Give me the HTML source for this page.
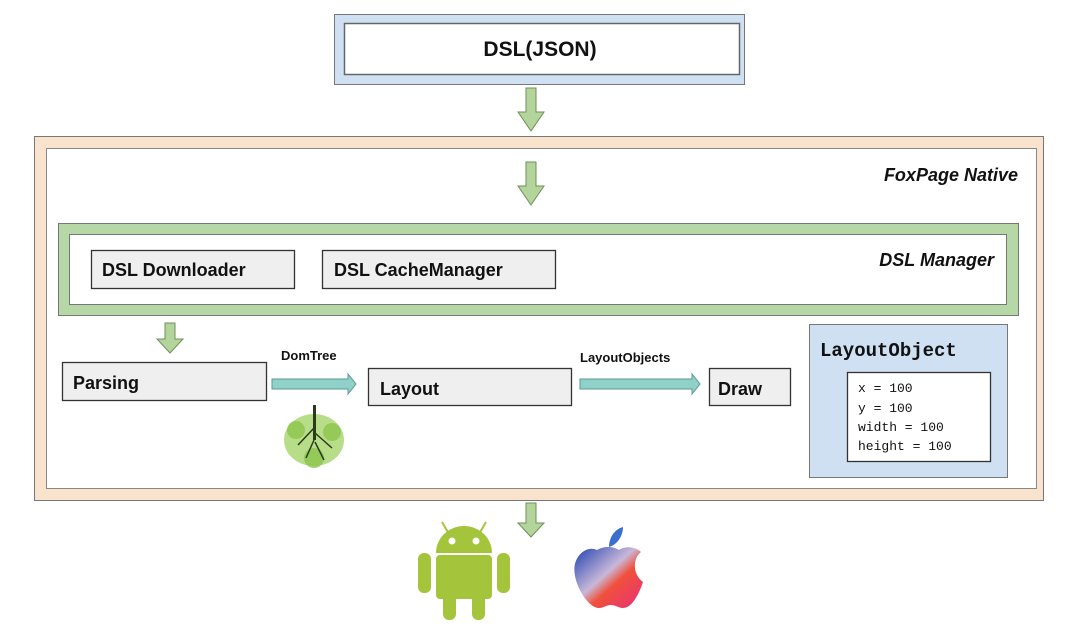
<!DOCTYPE html>
<html><head><meta charset="utf-8"><style>
html,body{margin:0;padding:0;background:#fff;}
svg{display:block;}
text{font-family:"Liberation Sans",sans-serif;font-weight:bold;fill:#111;}
.m{font-family:"Liberation Mono",monospace;font-weight:normal;}
</style></head><body>
<svg width="1080" height="630" viewBox="0 0 1080 630">
<defs>
<linearGradient id="ap" x1="0" y1="0" x2="1" y2="1">
<stop offset="0" stop-color="#1d3fb0"/><stop offset="0.45" stop-color="#c8b8d8"/><stop offset="0.6" stop-color="#f0503c"/><stop offset="1" stop-color="#e8307a"/>
</linearGradient>
</defs>
<rect x="334.5" y="14.5" width="410" height="70" fill="#cfe0f3" stroke="#777"/>
<rect x="344.5" y="23.5" width="395" height="51" fill="#fff" stroke="#666" stroke-width="1.5"/>
<text x="540" y="56" font-size="21" text-anchor="middle">DSL(JSON)</text>
<g fill="#b3d59c" stroke="#6f8f5a" stroke-width="1">
<path d="M526 88h10v24h8l-13 19-13-19h8z"/>
</g>
<rect x="34.5" y="136.5" width="1009" height="364" fill="#fae3cd" stroke="#777"/>
<rect x="46.5" y="148.5" width="990" height="340" fill="#fff" stroke="#888"/>
<g fill="#b3d59c" stroke="#6f8f5a" stroke-width="1">
<path d="M526 162h10v24h8l-13 19-13-19h8z"/>
</g>
<text x="1018" y="181" font-size="18" font-style="italic" text-anchor="end">FoxPage Native</text>
<rect x="58.5" y="223.5" width="960" height="92" fill="#b5d8a6" stroke="#777"/>
<rect x="69.5" y="234.5" width="937" height="70" fill="#fff" stroke="#777"/>
<text x="994" y="266" font-size="18" font-style="italic" text-anchor="end">DSL Manager</text>
<rect x="91.5" y="250.5" width="203" height="38" fill="#efefef" stroke="#333" stroke-width="1.3"/>
<text x="102" y="276" font-size="18">DSL Downloader</text>
<rect x="322.5" y="250.5" width="233" height="38" fill="#efefef" stroke="#333" stroke-width="1.3"/>
<text x="334" y="276" font-size="18">DSL CacheManager</text>
<g fill="#b3d59c" stroke="#6f8f5a" stroke-width="1">
<path d="M165 323h10v16h8l-13 14-13-14h8z"/>
<path d="M526 503h10v20h8l-13 14-13-14h8z"/>
</g>
<rect x="62.5" y="362.5" width="204" height="38" fill="#efefef" stroke="#333" stroke-width="1.3"/>
<text x="73" y="389" font-size="18">Parsing</text>
<text x="281" y="360" font-size="13">DomTree</text>
<path d="M272 379h76v-5l8 10-8 10v-5h-76z" fill="#8fd0c8" stroke="#5a9a94"/>
<rect x="368.5" y="368.5" width="203" height="37" fill="#efefef" stroke="#333" stroke-width="1.3"/>
<text x="380" y="395" font-size="18">Layout</text>
<text x="580" y="362" font-size="13">LayoutObjects</text>
<path d="M580 379h112v-5l8 10-8 10v-5h-112z" fill="#8fd0c8" stroke="#5a9a94"/>
<rect x="709.5" y="368.5" width="81" height="37" fill="#efefef" stroke="#333" stroke-width="1.3"/>
<text x="718" y="395" font-size="18">Draw</text>
<g>
<ellipse cx="314" cy="440" rx="30" ry="26" fill="#a5d46a" opacity="0.8"/>
<circle cx="296" cy="430" r="9" fill="#8cc64e" opacity="0.8"/>
<circle cx="332" cy="432" r="9" fill="#8cc64e" opacity="0.8"/>
<circle cx="314" cy="458" r="10" fill="#8cc64e" opacity="0.8"/>
<rect x="313" y="405" width="3" height="35" fill="#2a3a1a"/>
<path d="M314 428 L298 445 M315 433 L332 448 M314 440 L306 458 M315 442 L324 460" stroke="#2a3a1a" stroke-width="1.5" fill="none"/>
</g>
<rect x="809.5" y="324.5" width="198" height="153" fill="#cfe0f3" stroke="#777"/>
<text x="820" y="356" font-size="19" class="m" style="font-weight:bold">LayoutObject</text>
<rect x="847.5" y="372.5" width="143" height="89" fill="#fff" stroke="#333" stroke-width="1.3"/>
<text x="858" y="392" font-size="13" class="m">x = 100</text>
<text x="858" y="412" font-size="13" class="m">y = 100</text>
<text x="858" y="431" font-size="13" class="m">width = 100</text>
<text x="858" y="450" font-size="13" class="m">height = 100</text>
<g fill="#a4c43c">
<path d="M436 553a27 26 0 0 1 56 0z"/>
<rect x="436" y="555" width="56" height="44" rx="4"/>
<rect x="418" y="553" width="13" height="40" rx="6"/>
<rect x="497" y="553" width="13" height="40" rx="6"/>
<rect x="443" y="590" width="13" height="30" rx="6"/>
<rect x="472" y="590" width="13" height="30" rx="6"/>
<path d="M442 522l7 12M486 522l-7 12" stroke="#a4c43c" stroke-width="2"/>
</g>
<circle cx="452" cy="541" r="3.5" fill="#fff"/><circle cx="476" cy="541" r="3.5" fill="#fff"/>
<path d="M597 550c8-5 18-3 22 0c4-3 14-5 22 2c-8 6-9 22 2 30c-4 12-11 26-20 26c-5 0-7-3-12-3c-5 0-7 3-12 3c-12 0-28-28-24-44c3-12 14-18 22-14z" fill="url(#ap)"/>
<path d="M609 547c0-10 6-18 14-20c0 9-6 18-14 20z" fill="#3a6fd0"/>
</svg>
</body></html>
